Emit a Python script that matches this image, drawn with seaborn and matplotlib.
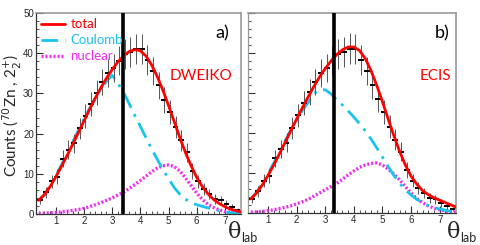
import numpy as np
import matplotlib
matplotlib.use('Agg')
import matplotlib.pyplot as plt
import seaborn as sns
from matplotlib.ticker import MultipleLocator

# measured counts (same data in both panels)
theta_bins = [0.45, 0.65, 0.85, 1.05, 1.25, 1.45, 1.65, 1.85, 2.05, 2.25, 2.45, 2.65,
              2.85, 3.05, 3.25, 3.45, 3.65, 3.85, 4.05, 4.25, 4.45, 4.65, 4.85, 5.05,
              5.25, 5.45, 5.65, 5.85, 6.05, 6.25, 6.45, 6.65, 6.85, 7.05, 7.25, 7.45]
counts = [3.5, 5.4, 8.1, 9.3, 13.7, 16.0, 17.6, 21.3, 24.4, 27.4, 30.2, 32.8,
          35.0, 36.3, 38.1, 39.8, 40.3, 41.1, 41.0, 38.3, 35.5, 32.0, 28.4, 25.3,
          21.6, 18.3, 15.3, 10.7, 8.1, 6.3, 5.0, 3.8, 3.4, 2.6, 1.8, 1.0]
count_err = [1.0, 1.3, 1.6, 1.8, 2.1, 2.3, 2.4, 2.7, 2.9, 3.0, 3.2, 3.3,
             3.5, 3.5, 3.6, 3.7, 3.8, 3.8, 3.8, 3.7, 3.5, 3.4, 3.2, 3.0,
             2.8, 2.6, 2.4, 2.0, 1.7, 1.5, 1.3, 1.2, 1.1, 1.0, 0.8, 0.6]

# calculated curves
curve_theta = [0.4, 0.6, 0.8, 1.0, 1.2, 1.4, 1.6, 1.8, 2.0, 2.2, 2.4, 2.6, 2.8,
               3.0, 3.2, 3.4, 3.6, 3.8, 4.0, 4.2, 4.4, 4.6, 4.8, 5.0, 5.2, 5.4,
               5.6, 5.8, 6.0, 6.2, 6.4, 6.6, 6.8, 7.0, 7.2, 7.4, 7.6]

total_a = [3.4, 4.8, 6.8, 9.2, 11.8, 14.5, 17.3, 20.2, 23.1, 26.0, 28.8, 31.4, 33.8,
           35.9, 37.8, 39.3, 40.4, 40.9, 40.6, 39.3, 37.1, 34.2, 30.8, 27.0, 23.0, 19.0,
           15.3, 12.0, 9.1, 6.8, 5.0, 3.6, 2.6, 1.8, 1.2, 0.8, 0.5]
coul_a = [3.4, 4.9, 7.0, 9.5, 12.2, 15.0, 17.9, 20.8, 23.6, 26.3, 28.8, 31.0, 33.0,
          34.5, 32.6, 30.3, 27.5, 24.6, 21.8, 19.0, 16.2, 13.6, 11.1, 8.8, 6.6, 4.9,
          3.7, 2.9, 2.3, 1.9, 1.5, 1.1, 0.8, 0.5, 0.3, 0.2, 0.1]
nuc_a = [0.1, 0.2, 0.3, 0.4, 0.5, 0.7, 0.9, 1.1, 1.4, 1.8, 2.3, 2.8, 3.4,
         4.0, 4.7, 5.4, 6.3, 7.3, 8.3, 9.4, 10.5, 11.4, 12.0, 12.2, 11.8, 10.7,
         9.0, 7.1, 5.2, 3.6, 2.4, 1.6, 1.0, 0.6, 0.4, 0.2, 0.1]

total_b = [3.5, 5.0, 7.0, 9.4, 12.0, 14.8, 17.7, 20.6, 23.5, 26.3, 29.0, 31.6, 34.0,
           36.1, 38.0, 39.6, 40.8, 41.5, 41.5, 40.6, 38.6, 35.6, 31.9, 27.8, 23.5, 19.3,
           15.4, 12.0, 9.2, 7.2, 5.6, 4.6, 3.8, 3.2, 2.6, 2.0, 1.4]
coul_b = [3.5, 5.2, 7.3, 9.8, 12.5, 15.3, 18.1, 20.8, 23.3, 25.6, 27.6, 29.8, 30.8,
          30.8, 29.8, 28.3, 27.0, 25.5, 24.0, 22.3, 20.5, 18.5, 16.3, 14.0, 11.6, 9.4,
          7.4, 5.8, 4.5, 3.4, 2.6, 1.9, 1.4, 1.0, 0.7, 0.4, 0.2]
nuc_b = [0.2, 0.3, 0.4, 0.6, 0.8, 1.1, 1.4, 1.8, 2.3, 2.8, 3.4, 4.2, 5.0,
         5.8, 6.6, 7.4, 8.4, 9.5, 10.5, 11.4, 12.0, 12.4, 12.5, 12.0, 11.0, 9.7,
         8.3, 6.6, 5.0, 3.6, 2.6, 1.8, 1.2, 0.8, 0.5, 0.3, 0.2]

cut_a = 3.38
cut_b = 3.31

sns.set_style('ticks')
plt.rcParams['font.family'] = ['Lato', 'DejaVu Sans']
plt.rcParams['mathtext.fontset'] = 'dejavusans'

red = '#ff0000'
cyan = '#19c3ee'
magenta = '#f02cf0'
tickfont = ['Liberation Sans', 'DejaVu Sans']

fig = plt.figure(figsize=(4.8, 2.45), dpi=100)
ax1 = fig.add_axes([36/480, 31/245, 205/480, 201/245])
ax2 = fig.add_axes([248/480, 32/245, 208/480, 200/245])

panels = [(ax1, total_a, coul_a, nuc_a, cut_a, 'a)', 'DWEIKO', 0.94, 0.956),
          (ax2, total_b, coul_b, nuc_b, cut_b, 'b)', 'ECIS', 0.97, 0.975)]

for ax, tot, cou, nuc, cut, tag, model, tag_x, model_x in panels:
    sns.lineplot(x=curve_theta, y=nuc, ax=ax, color=magenta, lw=2.4,
                 linestyle=(0, (0.6, 0.6)), label='nuclear')
    sns.lineplot(x=curve_theta, y=cou, ax=ax, color=cyan, lw=2.0,
                 linestyle=(0, (6, 2.5, 1, 2.5)), label='Coulomb')
    ax.errorbar(theta_bins, counts, yerr=count_err, fmt='none',
                ecolor='#555555', elinewidth=0.7, zorder=4)
    ax.errorbar(theta_bins, counts, xerr=0.1, fmt='none',
                ecolor='black', elinewidth=1.4, zorder=4)
    sns.lineplot(x=curve_theta, y=tot, ax=ax, color=red, lw=2.0, label='total', zorder=5)
    ax.axvline(cut, color='black', lw=2.6, zorder=6)

    ax.set_xlim(0.3, 7.57)
    ax.set_ylim(0, 50)
    ax.xaxis.set_major_locator(MultipleLocator(1))
    ax.xaxis.set_minor_locator(MultipleLocator(0.2))
    ax.yaxis.set_major_locator(MultipleLocator(10))
    ax.yaxis.set_minor_locator(MultipleLocator(2))
    ax.tick_params(which='both', direction='in', top=False, right=False,
                   labelsize=7, pad=1.5, color='#333333')
    ax.tick_params(which='major', length=5, width=0.8)
    ax.tick_params(which='minor', length=2.5, width=0.6)
    for lab in ax.get_xticklabels() + ax.get_yticklabels():
        lab.set_family(tickfont)
    ax.set_xlabel('')
    ax.set_ylabel('')
    for side in ['top', 'right']:
        ax.spines[side].set_color('#999999')
        ax.spines[side].set_linewidth(1.2)
    for side in ['left', 'bottom']:
        ax.spines[side].set_color('#333333')
        ax.spines[side].set_linewidth(0.9)

    ax.text(tag_x, 0.86, tag, transform=ax.transAxes, ha='right', va='bottom',
            fontsize=13, color='black')
    ax.text(model_x, 0.65, model, transform=ax.transAxes, ha='right', va='bottom',
            fontsize=11, color=red)

ax2.set_yticklabels([])
ax2.spines['left'].set_color('#999999')
ax2.get_legend().remove()

h, l = ax1.get_legend_handles_labels()
order = [l.index('total'), l.index('Coulomb'), l.index('nuclear')]
leg = ax1.legend([h[i] for i in order], [l[i] for i in order], loc='upper left',
                 frameon=False, fontsize=9.5, handlelength=1.8, handletextpad=0.4,
                 labelspacing=0.3, borderaxespad=0.1, borderpad=0.3,
                 labelcolor='linecolor')
leg.set_zorder(10)

fig.text(12/480, 0.53, r'Counts ($^{70}$Zn , 2$^{+}_{2}$)', rotation=90,
         ha='center', va='center', fontsize=11)

# theta_lab axis titles
for xpix in [228, 447]:
    fig.text(xpix/480, 2/245, 'θ', fontsize=16, family='DejaVu Serif', ha='left', va='bottom')
    fig.text((xpix + 13)/480, 1/245, 'lab', fontsize=9, ha='left', va='bottom')

fig.savefig('out.png', dpi=100)
